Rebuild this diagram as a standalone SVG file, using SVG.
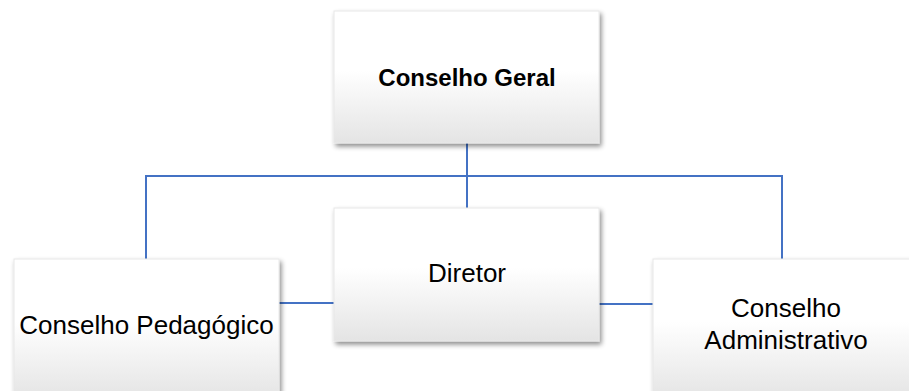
<svg xmlns="http://www.w3.org/2000/svg" width="909" height="391" viewBox="0 0 909 391">
  <defs>
    <linearGradient id="boxFill" x1="0" y1="0" x2="0" y2="1">
      <stop offset="0" stop-color="#ffffff"/>
      <stop offset="0.45" stop-color="#ffffff"/>
      <stop offset="1" stop-color="#e4e4e4"/>
    </linearGradient>
    <filter id="shadow" x="-10%" y="-10%" width="125%" height="130%">
      <feGaussianBlur in="SourceAlpha" stdDeviation="2.5"/>
      <feOffset dx="2" dy="3" result="b"/>
      <feComponentTransfer><feFuncA type="linear" slope="0.45"/></feComponentTransfer>
      <feMerge><feMergeNode/><feMergeNode in="SourceGraphic"/></feMerge>
    </filter>
    <style>
      .box { fill: url(#boxFill); stroke: #e8e8e8; stroke-width: 1; filter: url(#shadow); }
      .lbl { font-family: "Liberation Sans", Arial, sans-serif; font-size: 26px; fill: #000; text-anchor: middle; }
      .bold { font-weight: bold; font-size: 24px; }
      .conn { stroke: #4472C4; stroke-width: 2; fill: none; }
    </style>
  </defs>
  <rect width="909" height="391" fill="#ffffff"/>
  <g id="connectors">
    <path class="conn" d="M467 143 V208"/>
    <path class="conn" d="M146 259 V176 H782 V259"/>
    <path class="conn" d="M279 303 H334"/>
    <path class="conn" d="M599 304 H653"/>
  </g>
  <g id="conselho-geral">
    <rect class="box" x="334" y="11" width="265" height="132"/>
    <text class="lbl bold" x="467" y="86">Conselho Geral</text>
  </g>
  <g id="diretor">
    <rect class="box" x="334" y="208" width="265" height="133"/>
    <text class="lbl" x="467" y="282">Diretor</text>
  </g>
  <g id="conselho-pedagogico">
    <rect class="box" x="14" y="259" width="265" height="140"/>
    <text class="lbl" x="146.5" y="334">Conselho Pedagógico</text>
  </g>
  <g id="conselho-administrativo">
    <rect class="box" x="653" y="259" width="265" height="140"/>
    <text class="lbl" x="786" y="317">Conselho</text>
    <text class="lbl" x="786" y="349">Administrativo</text>
  </g>
</svg>
